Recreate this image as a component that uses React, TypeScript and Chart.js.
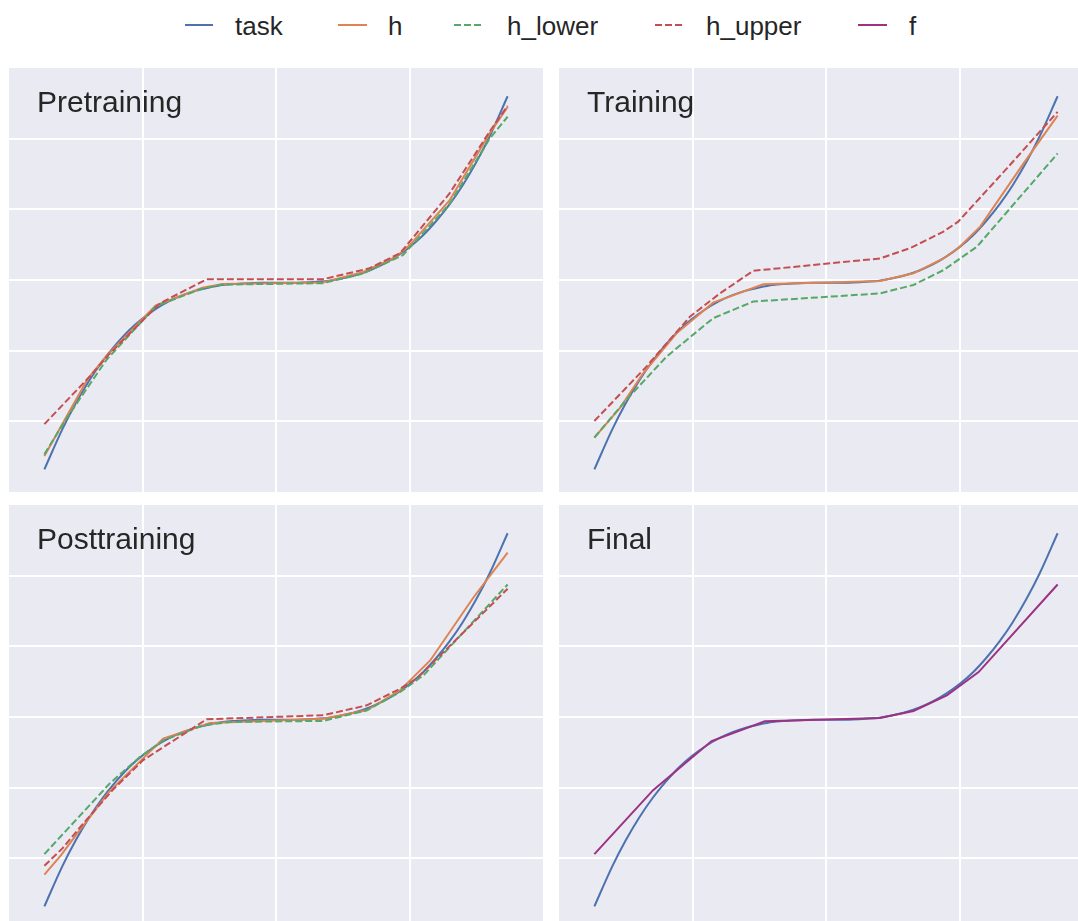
import React, { useEffect, useRef } from "react";
import { Chart, registerables } from "chart.js";

Chart.register(...registerables);

// ---------- data ----------
const taskX = [-1.735, -1.6, -1.5, -1.4, -1.3, -1.2, -1.1, -1.0, -0.9, -0.8, -0.7, -0.6, -0.5, -0.4, -0.3, -0.2, -0.1, 0, 0.1, 0.2, 0.3, 0.4, 0.5, 0.6, 0.7, 0.8, 0.9, 1.0, 1.1, 1.2, 1.3, 1.4, 1.5, 1.6, 1.735];
const taskY = [-5.36, -4.22, -3.49, -2.85, -2.3, -1.83, -1.42, -1.09, -0.82, -0.6, -0.43, -0.3, -0.21, -0.14, -0.11, -0.09, -0.08, -0.08, -0.08, -0.07, -0.05, -0.02, 0.05, 0.14, 0.27, 0.44, 0.66, 0.93, 1.26, 1.67, 2.14, 2.69, 3.33, 4.06, 5.2];

// Pretraining
const preHX = [-1.735, -1.41, -1.27, -0.9, -0.55, -0.4, 0.35, 0.65, 0.9, 1.0, 1.3, 1.6, 1.735];
const preHY = [-4.98, -2.8, -2.15, -0.72, -0.22, -0.11, -0.07, 0.22, 0.66, 0.98, 2.25, 4.15, 4.9];
const preLowerX = [-1.735, -1.57, -1.27, -0.9, -0.55, -0.4, 0.35, 0.65, 0.95, 1.3, 1.6, 1.735];
const preLowerY = [-4.93, -3.92, -2.26, -0.74, -0.24, -0.13, -0.09, 0.18, 0.7, 2.15, 4.0, 4.62];
const preUpperX = [-1.735, -1.395, -1.25, -0.87, -0.52, 0.35, 0.7, 0.93, 1.3, 1.6, 1.735];
const preUpperY = [-4.08, -2.73, -2.1, -0.66, 0.02, 0.02, 0.33, 0.76, 2.45, 4.2, 4.93];

// Training
const trHX = [-1.735, -1.545, -1.37, -1.12, -0.845, -0.47, 0.405, 0.655, 0.88, 0.99, 1.155, 1.48, 1.735];
const trHY = [-4.46, -3.63, -2.64, -1.51, -0.64, -0.12, -0.03, 0.19, 0.61, 0.9, 1.51, 3.3, 4.65];
const trLowerX = [-1.735, -1.495, -1.195, -0.845, -0.545, 0.405, 0.655, 0.88, 1.13, 1.735];
const trLowerY = [-4.46, -3.39, -2.17, -1.08, -0.61, -0.38, -0.14, 0.28, 0.94, 3.58];
const trUpperX = [-1.735, -1.345, -1.02, -0.795, -0.545, 0.405, 0.63, 0.88, 0.99, 1.355, 1.735];
const trUpperY = [-3.99, -2.45, -1.04, -0.38, 0.26, 0.61, 0.9, 1.37, 1.65, 3.16, 4.76];

// Posttraining
const postHX = [-1.735, -1.61, -1.47, -1.25, -0.845, -0.495, 0.355, 0.68, 0.93, 1.155, 1.48, 1.735];
const postHY = [-4.46, -3.91, -3.2, -2.12, -0.61, -0.17, -0.05, 0.19, 0.755, 1.6, 3.39, 4.65];
const postLowerX = [-1.735, -1.245, -1.02, -0.845, -0.545, -0.345, 0.355, 0.68, 0.93, 1.105, 1.735];
const postLowerY = [-3.88, -1.88, -1.13, -0.66, -0.235, -0.14, -0.11, 0.19, 0.71, 1.18, 3.75];
const postUpperX = [-1.735, -1.6, -1.445, -1.22, -0.995, -0.52, 0.355, 0.68, 0.93, 1.055, 1.735];
const postUpperY = [-4.21, -3.72, -3.02, -2.05, -1.22, -0.065, 0.05, 0.33, 0.8, 1.09, 3.63];

// Final
const finalFX = [-1.735, -1.295, -0.857, -0.458, 0.405, 0.655, 0.905, 1.143, 1.735];
const finalFY = [-3.88, -2.07, -0.68, -0.12, -0.03, 0.17, 0.61, 1.27, 3.75];

const legendLabels = ["task", "h", "h_lower", "h_upper", "f"];

// ---------- styles ----------
const C_TASK = "#4c72b0";
const C_H = "#dd8452";
const C_LOWER = "#55a868";
const C_UPPER = "#c44e52";
const C_F = "#9d3283";
const TEXT = "#262626";
const FONT = '"Liberation Sans", Arial, Helvetica, sans-serif';

type Series = { label: string; xs: number[]; ys: number[]; color: string; dashed?: boolean; smooth?: boolean };

const taskSeries: Series = { label: "task", xs: taskX, ys: taskY, color: C_TASK, smooth: true };

const panels: { title: string; left: number; top: number; series: Series[] }[] = [
  {
    title: "Pretraining", left: 9, top: 68,
    series: [taskSeries,
      { label: "h", xs: preHX, ys: preHY, color: C_H },
      { label: "h_lower", xs: preLowerX, ys: preLowerY, color: C_LOWER, dashed: true },
      { label: "h_upper", xs: preUpperX, ys: preUpperY, color: C_UPPER, dashed: true }],
  },
  {
    title: "Training", left: 559, top: 68,
    series: [taskSeries,
      { label: "h", xs: trHX, ys: trHY, color: C_H },
      { label: "h_lower", xs: trLowerX, ys: trLowerY, color: C_LOWER, dashed: true },
      { label: "h_upper", xs: trUpperX, ys: trUpperY, color: C_UPPER, dashed: true }],
  },
  {
    title: "Posttraining", left: 9, top: 505,
    series: [taskSeries,
      { label: "h", xs: postHX, ys: postHY, color: C_H },
      { label: "h_lower", xs: postLowerX, ys: postLowerY, color: C_LOWER, dashed: true },
      { label: "h_upper", xs: postUpperX, ys: postUpperY, color: C_UPPER, dashed: true }],
  },
  {
    title: "Final", left: 559, top: 505,
    series: [taskSeries,
      { label: "f", xs: finalFX, ys: finalFY, color: C_F }],
  },
];

const PW = 534;
const PH = 424;

function Panel({ title, left, top, series }: { title: string; left: number; top: number; series: Series[] }) {
  const ref = useRef<HTMLCanvasElement | null>(null);
  useEffect(() => {
    if (!ref.current) return;
    const bg = {
      id: "bgfill",
      beforeDraw(chart: any) {
        const { ctx, chartArea: a } = chart;
        ctx.save();
        ctx.fillStyle = "#eaeaf2";
        ctx.fillRect(a.left, a.top, a.right - a.left, a.bottom - a.top);
        ctx.restore();
      },
    };
    const label = {
      id: "paneltitle",
      afterDraw(chart: any) {
        const { ctx, chartArea: a } = chart;
        ctx.save();
        ctx.font = `30px ${FONT}`;
        ctx.fillStyle = TEXT;
        ctx.textBaseline = "alphabetic";
        ctx.textAlign = "left";
        ctx.fillText(title, a.left + 28, a.top + 44);
        ctx.restore();
      },
    };
    const gridColor = (lo: number, hi: number) => (c: any) => {
      const v = c.tick ? c.tick.value : 0;
      return v <= lo || v >= hi ? "rgba(0,0,0,0)" : "#ffffff";
    };
    const chart = new Chart(ref.current, {
      type: "line",
      data: {
        datasets: series.map((s, i) => ({
          label: s.label,
          data: s.xs.map((x, j) => ({ x, y: s.ys[j] })),
          borderColor: s.color,
          backgroundColor: s.color,
          borderWidth: 2,
          borderDash: s.dashed ? [7, 3] : [],
          pointRadius: 0,
          fill: false,
          tension: 0,
          cubicInterpolationMode: s.smooth ? "monotone" : "default",
          order: series.length - i,
        })),
      },
      options: {
        animation: false,
        responsive: false,
        devicePixelRatio: 1,
        events: [],
        layout: { padding: 0 },
        plugins: { legend: { display: false }, tooltip: { enabled: false }, title: { display: false } },
        scales: {
          x: {
            type: "linear", min: -2, max: 2,
            ticks: { display: false, stepSize: 1 },
            grid: { color: gridColor(-2, 2), lineWidth: 2, drawTicks: false },
            border: { display: false },
          },
          y: {
            type: "linear", min: -6, max: 6,
            ticks: { display: false, stepSize: 2 },
            grid: { color: gridColor(-6, 6), lineWidth: 2, drawTicks: false },
            border: { display: false },
          },
        },
      } as any,
      plugins: [bg, label],
    });
    return () => chart.destroy();
  }, []);
  return (
    <canvas
      ref={ref}
      width={PW}
      height={PH}
      style={{ position: "absolute", left, top, width: PW, height: PH }}
    />
  );
}

const legendItems = [
  { color: C_TASK, dashed: false, x1: 185, x2: 213, tx: 235 },
  { color: C_H, dashed: false, x1: 338, x2: 367, tx: 388 },
  { color: C_LOWER, dashed: true, x1: 454, x2: 484, tx: 507 },
  { color: C_UPPER, dashed: true, x1: 655, x2: 683, tx: 706 },
  { color: C_F, dashed: false, x1: 858, x2: 887, tx: 909 },
];

export default function App() {
  return (
    <div
      style={{
        position: "fixed", left: 0, top: 0, width: 1078, height: 921,
        overflow: "hidden", background: "#ffffff",
      }}
    >
      <svg width={1078} height={60} style={{ position: "absolute", left: 0, top: 0 }}>
        {legendItems.map((it, i) => (
          <g key={i}>
            <line x1={it.x1} x2={it.x2} y1={25} y2={25} stroke={it.color} strokeWidth={2}
              strokeDasharray={it.dashed ? "7,3" : undefined} />
            <text x={it.tx} y={35} fontSize={26} fontFamily={FONT} fill={TEXT}>{legendLabels[i]}</text>
          </g>
        ))}
      </svg>
      {panels.map((p) => (
        <Panel key={p.title} title={p.title} left={p.left} top={p.top} series={p.series} />
      ))}
    </div>
  );
}
